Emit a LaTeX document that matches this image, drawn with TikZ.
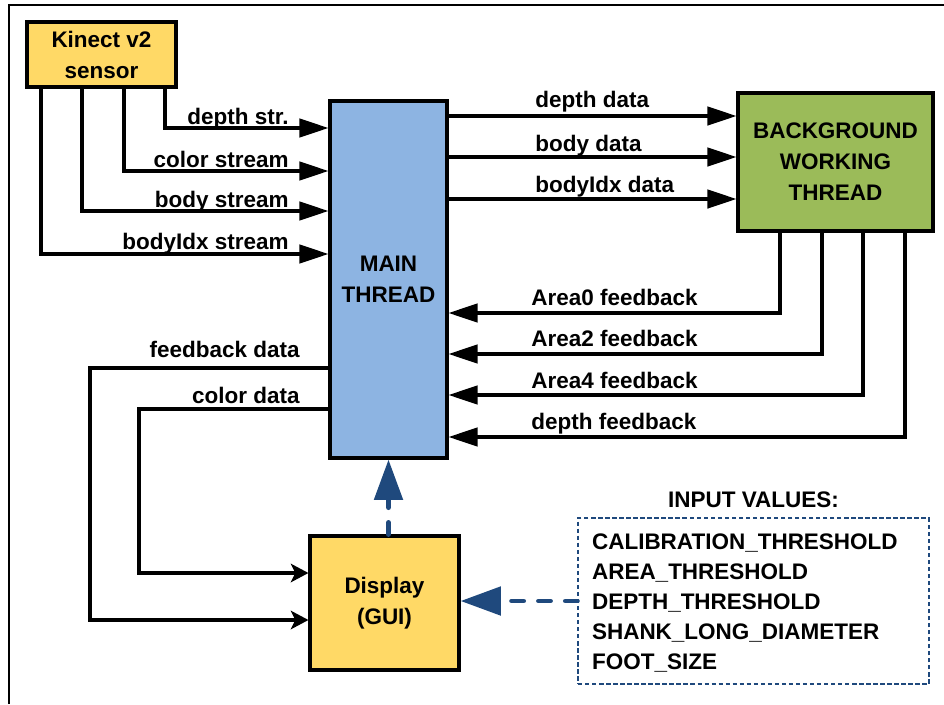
\documentclass[tikz,border=0pt]{standalone}
\usepackage{fontspec}
\setmainfont{Liberation Sans}
\usetikzlibrary{arrows.meta,positioning,calc}
\definecolor{kinectyellow}{HTML}{FFD966}
\definecolor{mainblue}{HTML}{8DB4E2}
\definecolor{workgreen}{HTML}{9BBB59}
\definecolor{guiblue}{HTML}{1F497D}

\begin{document}
\begin{tikzpicture}
    [x=0.02cm,y=-0.02cm,
     every node/.style={font=\bfseries\fontsize{12.8}{17.6}\selectfont},
     blk/.style={rectangle,draw=black,line width=1.8pt,align=center,inner sep=0pt},
     lbl/.style={inner sep=0pt},
     arr/.style={line width=1.8pt,-{Triangle[length=16.5pt,width=10.5pt]}},
     arrs/.style={line width=1.8pt,-{Stealth[length=10pt,width=10.5pt,inset=2.5pt]}},
     guiarr/.style={draw=guiblue,line width=2.8pt,line cap=round,dash pattern=on 6.8pt off 8.5pt,
        -{Triangle[length=23pt,width=16pt,fill=guiblue]}}]
    \useasboundingbox (0,0) rectangle (944,704);
    \draw[line width=1.6pt] (9,704) |- (944,5);

    \node[blk,fill=kinectyellow,minimum width=2.98cm,minimum height=1.30cm] (kinect) at (101.5,54.5) {Kinect v2\\sensor};
    \node[blk,fill=mainblue,minimum width=2.34cm,minimum height=7.14cm] (main) at (388.5,279.5) {MAIN\\THREAD};
    \node[blk,fill=workgreen,minimum width=3.90cm,minimum height=2.76cm] (back) at (835.5,162) {BACKGROUND\\WORKING\\THREAD};
    \node[blk,fill=kinectyellow,minimum width=2.98cm,minimum height=2.68cm] (gui) at (384.5,603) {Display\\(GUI)};
    \node[rectangle,draw=guiblue,line width=0.8pt,dash pattern=on 2.5pt off 1.5pt,
        minimum width=7.02cm,minimum height=3.32cm,inner xsep=0.28cm,text width=6.46cm,align=left,
        font=\bfseries\fontsize{12.8}{17}\selectfont] (inp) at (753.5,601) {};
    \node[lbl,text width=6.46cm,align=left,font=\bfseries\fontsize{12.8}{17}\selectfont] (inplist) at (753.5,603)
        {CALIBRATION\_THRESHOLD\\AREA\_THRESHOLD\\DEPTH\_THRESHOLD\\SHANK\_LONG\_DIAMETER\\FOOT\_SIZE};
    \node[lbl,above=0.18cm of inp] (inptitle) {INPUT VALUES:};

    % sensor streams
    \foreach \fx/\ty/\bl/\txt in {165/128/124/depth str.,124/171/167/color stream,82/211/207/body stream,41/254/249/bodyIdx stream}{
        \draw[arr] (kinect.south -| \fx,0) |- (main.west |- 0,\ty);
        \node[lbl,anchor=base east] (str\fx) at (289,\bl) {\txt};
    }
    % data to the worker
    \foreach \ty/\bl/\txt in {116/107/depth data,157/151/body data,199/192/bodyIdx data}{
        \draw[arr] (main.east |- 0,\ty) -- (back.west |- 0,\ty);
        \node[lbl,anchor=base west] (dat\ty) at (535,\bl) {\txt};
    }
    % feedback from the worker
    \foreach \fx/\ty/\bl/\txt in {780/313/305/Area0 feedback,822/354/346/Area2 feedback,863/395/388/Area4 feedback,905/437/429/depth feedback}{
        \draw[arr] (back.south -| \fx,0) |- (main.east |- 0,\ty);
        \node[lbl,anchor=base west] (fb\fx) at (531,\bl) {\txt};
    }

    % main thread to display
    \draw[arrs] (main.west |- 0,368) -- (90,368) |- (gui.west |- 0,620);
    \node[lbl,anchor=base east] (fbdata) at (300,357) {feedback data};
    \draw[arrs] (main.west |- 0,409) -- (139,409) |- (gui.west |- 0,573);
    \node[lbl,anchor=base east] (coldata) at (300,403) {color data};

    % \draw (gui) edge[->] (main);
    \draw[guiarr] (gui.north -| main.south) -- (main.south);
    \draw[guiarr] (inp.west) -- (gui.east |- inp.west);
\end{tikzpicture}
\end{document}
